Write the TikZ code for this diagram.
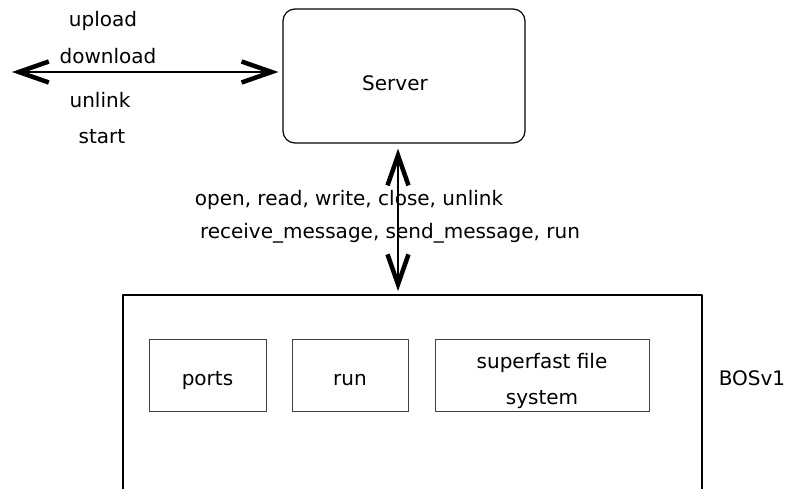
\documentclass[tikz,border=0pt]{standalone}
\usepackage{fontspec}
\setmainfont{DejaVu Sans}
\usetikzlibrary{arrows.meta}
\begin{document}
\begin{tikzpicture}[x=1pt,y=-1pt,>={Straight Barb[length=30pt,width=21pt,line width=4.5pt]},line join=round,font=\fontsize{20}{24}\selectfont]
	\tikzset{part/.style={draw=black!75,line width=0.9pt,minimum height=72pt,inner sep=0pt},
		tag/.style={text height=25pt,text depth=4pt},
		link/.style={<->,line width=1.6pt}}
	\useasboundingbox (0,0) rectangle (787,489);
	\clip (0,0) rectangle (787,489);
	\node[draw,line width=1.2pt,rounded corners=12pt,minimum width=242pt,minimum height=134pt] (srv) at (404,76) {};
	\node (srvtxt) at (395,83) {Server};
	\foreach \t/\x/\y in {upload/103/21,download/108/56,unlink/100/100,start/102/137}{
		\node (\t) at (\x,\y) {\t};
	}
	\node (calls) at (349,200) {open, read, write, close, unlink};
	\node (msgs) at (390,233) {receive\_message, send\_message, run};
	% the os box runs off the bottom
	\node[draw,line width=1.7pt,minimum width=579pt,minimum height=230pt] (bos) at (412.5,410) {};
	\node (bosname) at (752,378) {BOSv1};
	\node[part,tag,minimum width=117pt] (ports) at (207.5,375) {ports};
	\node[part,tag,minimum width=116pt] (run) at (350,375) {run};
	\node[part,minimum width=214pt,align=center,font=\fontsize{20}{36}\selectfont] (sfs) at (542,375) {\rule{0pt}{27pt}superfast file\\system};
	\coordinate (far) at (12,72);
	\draw[link] (far) -- ([xshift=-4pt]far -| srv.west);
	\draw[link] ([xshift=-6pt,yshift=-5pt]srv.south) -- ([xshift=-6pt,yshift=3pt]srv.south |- bos.north);
\end{tikzpicture}
\end{document}
